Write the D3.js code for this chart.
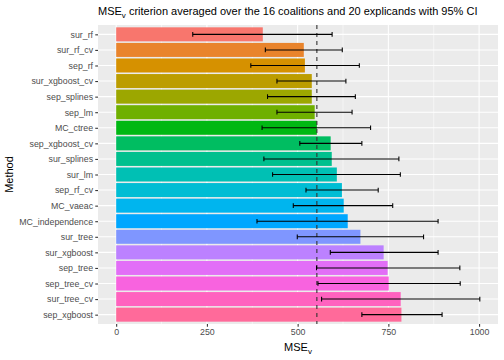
<!DOCTYPE html>
<html><head><meta charset="utf-8">
<script src="https://cdn.jsdelivr.net/npm/d3@7"></script>
<style>body{margin:0;background:#fff}svg{display:block}text{font-family:"Liberation Sans",Arial,sans-serif}</style>
</head><body>
<script>
const methods = ["sur_rf","sur_rf_cv","sep_rf","sur_xgboost_cv","sep_splines","sep_lm","MC_ctree","sep_xgboost_cv","sur_splines","sur_lm","sep_rf_cv","MC_vaeac","MC_independence","sur_tree","sur_xgboost","sep_tree","sep_tree_cv","sur_tree_cv","sep_xgboost"];
const mseValues = [404,517,520,539,539,547,553,591,594,608,622,627,638,673,737,748,751,784,786];
const ciLower = [211,411,371,443,417,443,402,506,407,431,523,488,388,499,590,552,556,566,677];
const ciUpper = [595,623,670,633,659,650,701,677,779,783,722,762,887,847,887,947,948,1002,898];
const refLine = 553;
const xTicks = [0,250,500,750,1000];
const xMinor = [125,375,625,875];

// ggplot2 hue palette (polar LUV)
function hclLuv(h, c, l){
  const hr = h*Math.PI/180, u = c*Math.cos(hr), v = c*Math.sin(hr);
  const Xn=95.047, Yn=100, Zn=108.883;
  const den = Xn+15*Yn+3*Zn, un=4*Xn/den, vn=9*Yn/den;
  const Y = l>8 ? Yn*Math.pow((l+16)/116,3) : Yn*l/903.3;
  const up = u/(13*l)+un, vp = v/(13*l)+vn;
  const X = 9*Y*up/(4*vp), Z = -X/3 - 5*Y + 3*Y/vp;
  const x=X/100,y=Y/100,z=Z/100;
  let r = 3.240479*x-1.53715*y-0.498535*z;
  let g = -0.969256*x+1.875992*y+0.041556*z;
  let b = 0.055648*x-0.204043*y+1.057311*z;
  const gam = t => { t = t<=0.0031308 ? 12.92*t : 1.055*Math.pow(t,1/2.4)-0.055; return Math.round(255*Math.max(0,Math.min(1,t))); };
  return d3.rgb(gam(r),gam(g),gam(b)).formatHex();
}
const n = methods.length;
const colors = methods.map((d,i)=>hclLuv(15+i*360/n,100,65));

const W=504,H=360;
const m={l:98,r:6,t:25,b:36};
const svg=d3.select("body").append("svg").attr("width",W).attr("height",H);
const pw=W-m.l-m.r, ph=H-m.t-m.b;
const g=svg.append("g").attr("transform",`translate(${m.l},${m.t})`);
const dmax = d3.max(ciUpper), span = dmax-0;
const x=d3.scaleLinear().domain([0-span*0.05,dmax+span*0.05]).range([0,pw]);
const step = ph/(n-1+1.2);
const y=d3.scalePoint().domain(methods).range([0.6*step,ph-0.6*step]);
const bw = 0.9*step;

g.append("rect").attr("width",pw).attr("height",ph).attr("fill","#EBEBEB");
g.selectAll(".minor").data(xMinor).join("line").attr("x1",d=>x(d)).attr("x2",d=>x(d)).attr("y1",0).attr("y2",ph).attr("stroke","#fff").attr("stroke-width",0.53);
g.selectAll(".majx").data(xTicks).join("line").attr("x1",d=>x(d)).attr("x2",d=>x(d)).attr("y1",0).attr("y2",ph).attr("stroke","#fff").attr("stroke-width",1.07);
g.selectAll(".majy").data(methods).join("line").attr("x1",0).attr("x2",pw).attr("y1",d=>y(d)).attr("y2",d=>y(d)).attr("stroke","#fff").attr("stroke-width",1.07);

g.selectAll(".bar").data(methods).join("rect")
  .attr("x",x(0)).attr("y",d=>y(d)-bw/2).attr("height",bw)
  .attr("width",(d,i)=>x(mseValues[i])-x(0)).attr("fill",(d,i)=>colors[i]);

g.append("line").attr("x1",x(refLine)).attr("x2",x(refLine)).attr("y1",0).attr("y2",ph)
  .attr("stroke","#333").attr("stroke-width",1.1).attr("stroke-dasharray","4,4");

const cap = 0.3*step;
const eb = g.selectAll(".eb").data(methods).join("g");
eb.append("line").attr("x1",(d,i)=>x(ciLower[i])).attr("x2",(d,i)=>x(ciUpper[i])).attr("y1",d=>y(d)).attr("y2",d=>y(d)).attr("stroke","#000").attr("stroke-width",1.07);
eb.append("line").attr("x1",(d,i)=>x(ciLower[i])).attr("x2",(d,i)=>x(ciLower[i])).attr("y1",d=>y(d)-cap/2).attr("y2",d=>y(d)+cap/2).attr("stroke","#000").attr("stroke-width",1.07);
eb.append("line").attr("x1",(d,i)=>x(ciUpper[i])).attr("x2",(d,i)=>x(ciUpper[i])).attr("y1",d=>y(d)-cap/2).attr("y2",d=>y(d)+cap/2).attr("stroke","#000").attr("stroke-width",1.07);

// axes
const xa=g.append("g").attr("transform",`translate(0,${ph})`).call(d3.axisBottom(x).tickValues(xTicks).tickSize(2.75).tickPadding(2.2).tickFormat(d3.format("d")));
const ya=g.append("g").call(d3.axisLeft(y).tickSize(2.75).tickPadding(2.2));
[xa,ya].forEach(a=>{a.select(".domain").remove();a.selectAll("line").attr("stroke","#333").attr("stroke-width",1.07);a.selectAll("text").attr("fill","#4D4D4D").style("font-size","8.8px").style("font-family","'Liberation Sans',Arial,sans-serif");});

const xt=svg.append("text").attr("x",m.l+pw/2).attr("y",351).attr("text-anchor","middle").style("font-size","11px");
xt.append("tspan").text("MSE");
xt.append("tspan").text("v").attr("dy",3).style("font-size","8px");
svg.append("text").attr("transform",`translate(13,${m.t+ph/2}) rotate(-90)`).attr("text-anchor","middle").style("font-size","11px").text("Method");
const tt=svg.append("text").attr("x",m.l).attr("y",15).style("font-size","11px");
tt.append("tspan").text("MSE");
tt.append("tspan").text("v").attr("dy",3).style("font-size","8px");
tt.append("tspan").text(" criterion averaged over the 16 coalitions and 20 explicands with 95% CI").attr("dy",-3);
</script>
</body></html>
